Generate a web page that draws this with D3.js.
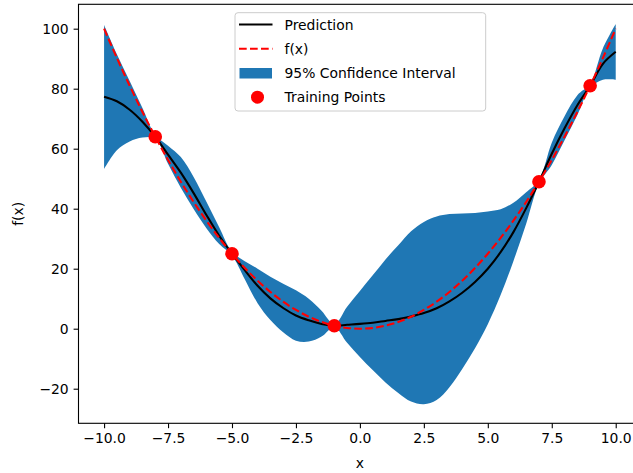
<!DOCTYPE html>
<html>
<head>
<meta charset="utf-8">
<script src="https://cdn.jsdelivr.net/npm/d3@7"></script>
<style>
  body { margin: 0; background: #fff; }
  svg { display: block; font-family: "DejaVu Sans", sans-serif; }
</style>
</head>
<body>
<div id="chart"></div>
<script>
// sample positions along x
const xs = [-10, -9.5, -9, -8.5, -8, -7.5, -7, -6.5, -6, -5.5, -5, -4.5, -4, -3.5, -3, -2.5, -2, -1.5, -1, -0.5,
  0, 0.5, 1, 1.5, 2, 2.5, 3, 3.5, 4, 4.5, 5, 5.5, 6, 6.5, 7, 7.5, 8, 8.5, 9, 9.5, 10];

// true function f(x)
const fx = [100, 90.25, 81, 72.25, 64, 56.25, 49, 42.25, 36, 30.25, 25, 20.25, 16, 12.25, 9, 6.25, 4, 2.25, 1, 0.25,
  0, 0.25, 1, 2.25, 4, 6.25, 9, 12.25, 16, 20.25, 25, 30.25, 36, 42.25, 49, 56.25, 64, 72.25, 81, 90.25, 100];

// model prediction
const pred = [77.3, 75.8, 73, 69, 64, 58, 52, 45.2, 37.9, 31, 25, 19.5, 14.3, 10.1, 6.9, 4.4, 2.8, 1.6, 1, 1.3,
  1.6, 2.0, 2.6, 3.2, 4.1, 5.2, 6.8, 9.1, 12, 15.6, 20, 25.5, 32.2, 40.2, 49, 58.3, 66.8, 74.5, 81, 88.3, 92.3];

// 95% interval bounds
const ciUpper = [101.2, 91.5, 82.6, 73.6, 64.6, 61, 57.2, 50.6, 42.3, 33.8, 25.6, 22.5, 20, 17.3, 15, 12.8, 10, 6, 1.5, 7.3,
  12.6, 17.8, 23.1, 27.8, 32.5, 35.6, 37.4, 38.2, 38.4, 38.6, 39.1, 39.8, 42, 45.5, 49.6, 62, 70.8, 77.8, 81.7, 93.5, 101.6];
const ciLower = [53.2, 59.5, 62.4, 63.7, 63.4, 55, 47, 39.9, 33.5, 28.2, 24.4, 16.5, 8.5, 2.9, -1.2, -4, -4.3, -2.6, 0.5, -4.7,
  -9.4, -13.8, -17.9, -21.4, -24.3, -25.2, -23.8, -19.5, -13.4, -6.5, 1.5, 11.2, 22.5, 35, 48.4, 54.6, 62.8, 71.2, 80.3, 83, 83];

// training points
const trainX = [-8, -5, -1, 7, 9];
const trainY = [64, 25, 1, 49, 81];

const xTicks = [-10, -7.5, -5, -2.5, 0, 2.5, 5, 7.5, 10];
const yTicks = [-20, 0, 20, 40, 60, 80, 100];

const legendItems = ["Prediction", "f(x)", "95% Confidence Interval", "Training Points"];

const width = 633, height = 473;
const plotL = 78.5, plotR = 641.3, plotT = 4.3, plotB = 423.3;
const blue = "#1f77b4";
const fontSize = 13.9;

const x = d3.scaleLinear().domain([-11, 11]).range([plotL, plotR]);
const y = d3.scaleLinear().domain([-31.53, 108.13]).range([plotB, plotT]);

const svg = d3.select("#chart").append("svg")
  .attr("width", width)
  .attr("height", height);

const plot = svg.append("g");
const curve = d3.curveCatmullRom.alpha(0.5);

// confidence band
const area = d3.area()
  .x((d, i) => x(xs[i]))
  .y0((d, i) => y(ciLower[i]))
  .y1((d, i) => y(ciUpper[i]))
  .curve(curve);

plot.append("path")
  .datum(xs)
  .attr("d", area)
  .attr("fill", blue);

const line = vals => d3.line()
  .x((d, i) => x(xs[i]))
  .y((d, i) => y(vals[i]))
  .curve(curve)(xs);

plot.append("path")
  .attr("d", line(pred))
  .attr("fill", "none")
  .attr("stroke", "#000")
  .attr("stroke-width", 2.08);

plot.append("path")
  .attr("d", line(fx))
  .attr("fill", "none")
  .attr("stroke", "#ff0000")
  .attr("stroke-width", 2.08)
  .attr("stroke-dasharray", "7.7,3.3");

plot.selectAll("circle.train")
  .data(trainX)
  .join("circle")
  .attr("class", "train")
  .attr("cx", d => x(d))
  .attr("cy", (d, i) => y(trainY[i]))
  .attr("r", 6.8)
  .attr("fill", "#ff0000");

// axes
const xAxis = d3.axisBottom(x)
  .tickValues(xTicks)
  .tickSize(4.9)
  .tickPadding(4.9)
  .tickFormat(d => d3.format(".1f")(d).replace("-", "\u2212"));

const yAxis = d3.axisLeft(y)
  .tickValues(yTicks)
  .tickSize(4.9)
  .tickPadding(4.9)
  .tickFormat(d => String(d).replace("-", "\u2212"));

const gx = svg.append("g")
  .attr("transform", `translate(0,${plotB})`)
  .call(xAxis);
const gy = svg.append("g")
  .attr("transform", `translate(${plotL},0)`)
  .call(yAxis);

[gx, gy].forEach(g => {
  g.select(".domain").remove();
  g.selectAll(".tick line").attr("stroke", "#000").attr("stroke-width", 1.1);
  g.selectAll(".tick text")
    .attr("fill", "#000")
    .style("font-size", fontSize + "px")
    .style("font-family", "DejaVu Sans");
});

// frame
svg.append("rect")
  .attr("x", plotL)
  .attr("y", plotT)
  .attr("width", plotR - plotL)
  .attr("height", plotB - plotT)
  .attr("fill", "none")
  .attr("stroke", "#000")
  .attr("stroke-width", 1.1);

// axis labels
svg.append("text")
  .attr("x", x(0))
  .attr("y", 468)
  .attr("text-anchor", "middle")
  .style("font-size", fontSize + "px")
  .text("x");

svg.append("text")
  .attr("transform", `translate(23,${(plotT + plotB) / 2}) rotate(-90)`)
  .attr("text-anchor", "middle")
  .style("font-size", fontSize + "px")
  .text("f(x)");

// legend
const lg = svg.append("g");
lg.append("rect")
  .attr("x", 235)
  .attr("y", 12.7)
  .attr("width", 250.7)
  .attr("height", 98.3)
  .attr("rx", 3)
  .attr("fill", "#fff")
  .attr("fill-opacity", 0.8)
  .attr("stroke", "#cccccc")
  .attr("stroke-width", 1);

const rowY = [24.5, 48.8, 73, 97.2];
legendItems.forEach((name, i) => {
  const cy = rowY[i];
  if (i === 0) {
    lg.append("line").attr("x1", 239).attr("x2", 272.5).attr("y1", cy).attr("y2", cy)
      .attr("stroke", "#000").attr("stroke-width", 2.08);
  } else if (i === 1) {
    lg.append("line").attr("x1", 239).attr("x2", 272.5).attr("y1", cy).attr("y2", cy)
      .attr("stroke", "#ff0000").attr("stroke-width", 2.08).attr("stroke-dasharray", "7.7,3.3");
  } else if (i === 2) {
    lg.append("rect").attr("x", 239.5).attr("y", cy - 5).attr("width", 32.5).attr("height", 10.5)
      .attr("fill", blue);
  } else {
    lg.append("circle").attr("cx", 257.5).attr("cy", cy).attr("r", 6.5).attr("fill", "#ff0000");
  }
  lg.append("text")
    .attr("x", 284.5)
    .attr("y", cy + 5)
    .style("font-size", fontSize + "px")
    .text(name);
});
</script>
</body>
</html>
